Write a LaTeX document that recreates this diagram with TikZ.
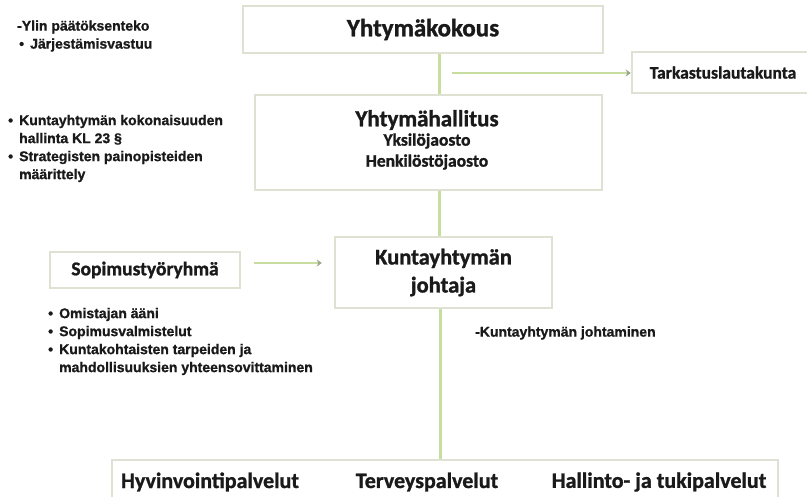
\documentclass[tikz,border=0pt]{standalone}
\usepackage{fontspec}
\setmainfont{Carlito}[BoldFeatures={FakeBold=1.2}]
\newfontfamily\smallf{Liberation Sans}[BoldFeatures={FakeBold=1}]
\usetikzlibrary{arrows.meta}
\definecolor{boxline}{HTML}{DFE2D3}
\definecolor{conn}{HTML}{C8DDA0}
\definecolor{tip}{HTML}{9AA58A}
\definecolor{txt}{HTML}{1A1A1A}
\newcommand\bul{\makebox[11pt][l]{•}}
\newcommand\ind{\hspace*{11pt}}
\tikzset{
  box/.style={draw=boxline, line width=2.5pt, fill=white, rectangle, inner sep=0pt,
    font=\bfseries, text=txt, align=center},
  label/.style={inner sep=0pt, text=txt, font=\bfseries},
  connector/.style={draw=conn, line width=3pt},
  arr/.style={draw=conn, line width=2.5pt, -{Stealth[length=5pt,width=7pt,color=tip]}},
  note/.style={font=\smallf\bfseries\fontsize{14}{18}\selectfont, text=txt, align=left,
    inner sep=0pt, anchor=west},
}
\begin{document}
\begin{tikzpicture}[x=1pt,y=-1pt]
\useasboundingbox (0,0) rectangle (807,497);
\clip (0,0) rectangle (807,497);
\fill[white] (0,0) rectangle (807,497);

\coordinate (jx) at (439,0);
\coordinate (tstart) at (452,73);

% connectors (under boxes)
\draw[connector] (423,53 -| jx) -- (439,95);
\draw[connector] (439,190) -- (439,237);
\draw[connector] (440,308) -- (440,460);

% boxes
\node[box, minimum width=360pt, minimum height=47pt, font=\bfseries\fontsize{25}{30}\selectfont]
  (kokous) at (423,29.5) {Yhtymäkokous};
\node[box, minimum width=182pt, minimum height=41pt, font=\bfseries\fontsize{17.5}{21}\selectfont]
  (tark) at (723,72.5) {Tarkastuslautakunta};
\node[box, minimum width=347pt, minimum height=95pt] (hallitus) at (428.5,142.5) {};
\node[label, font=\bfseries\fontsize{23}{27}\selectfont] (hal1) at (427,120) {Yhtymähallitus};
\node[label, font=\bfseries\fontsize{17.5}{21}\selectfont] (hal2) at (427,141) {Yksilöjaosto};
\node[label, font=\bfseries\fontsize{17.5}{21}\selectfont] (hal3) at (427,162) {Henkilöstöjaosto};
\node[box, minimum width=217pt, minimum height=71pt, font=\bfseries\fontsize{22.5}{28}\selectfont]
  (johtaja) at (443.5,272.5) {Kuntayhtymän\\johtaja};
\node[box, minimum width=190pt, minimum height=36pt, font=\bfseries\fontsize{19.5}{23}\selectfont]
  (sopimus) at (145,270) {Sopimustyöryhmä};
\node[box, minimum width=666pt, minimum height=60pt] (palv) at (445,490) {};
\node[label, font=\bfseries\fontsize{22}{26}\selectfont] (p1) at (210,482) {Hyvinvointipalvelut};
\node[label, font=\bfseries\fontsize{22}{26}\selectfont] (p2) at (427,482) {Terveyspalvelut};
\node[label, font=\bfseries\fontsize{22}{26}\selectfont] (p3) at (659,482) {Hallinto- ja tukipalvelut};

% arrows
\draw[arr] (tstart) -- (tark.west |- tstart);
\draw[arr] ([xshift=13pt,yshift=7pt]sopimus.east) -- ([xshift=-12pt,yshift=7pt]sopimus.east -| johtaja.west);

% notes
\node[note] (n1) at (17,36) {-Ylin päätöksenteko\\\hspace*{2pt}\bul Järjestämisvastuu};
\node[note] (n2) at (8,148.5) {\bul Kuntayhtymän kokonaisuuden\\\ind hallinta KL 23 §\\\bul Strategisten painopisteiden\\\ind määrittely};
\node[note] (n3) at (48,341.5) {\bul Omistajan ääni\\\bul Sopimusvalmistelut\\\bul Kuntakohtaisten tarpeiden ja\\\ind mahdollisuuksien yhteensovittaminen};
\node[note] (n4) at (475,333) {-Kuntayhtymän johtaminen};
\end{tikzpicture}
\end{document}
